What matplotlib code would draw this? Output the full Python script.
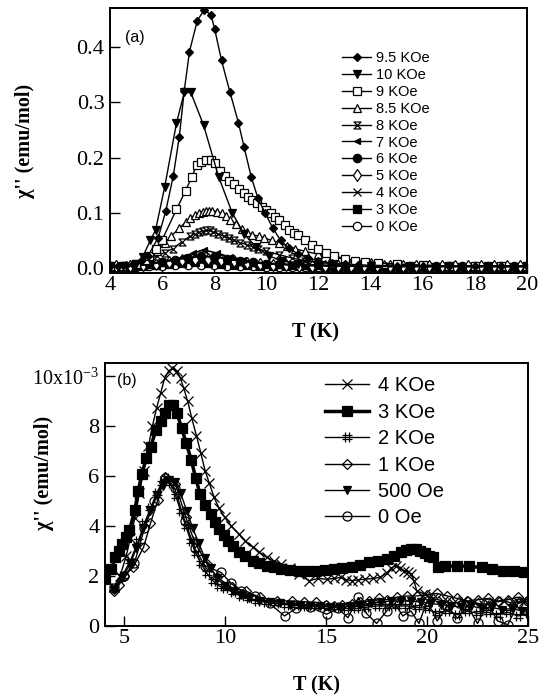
import matplotlib
matplotlib.use("Agg")
import matplotlib.pyplot as plt
from matplotlib.path import Path

plt.rcParams['font.family'] = ['Liberation Serif', 'DejaVu Serif']
plt.rcParams['mathtext.fontset'] = 'custom'
plt.rcParams['mathtext.rm'] = 'Liberation Serif'

# ---------------- panel (a) data: chi'' (emu/mol) vs T (K) ----------------
t_95 = [4.0, 4.3, 4.6, 4.9, 5.2, 5.46, 5.85, 6.14, 6.43, 6.66,
        6.85, 7.05, 7.35, 7.62, 7.88, 8.02, 8.28, 8.6, 8.93, 9.14,
        9.42, 9.68, 9.95, 10.25, 10.55, 10.85, 11.2, 11.6, 12.0, 12.5,
        13.0, 13.5, 14.0, 15.0, 16.0, 17.0, 18.0, 19.0, 20.0]
chi_95 = [0.004, 0.004, 0.005, 0.007, 0.012, 0.022, 0.055, 0.103, 0.167, 0.238,
          0.321, 0.392, 0.448, 0.468, 0.458, 0.432, 0.376, 0.319, 0.263, 0.220,
          0.165, 0.126, 0.100, 0.072, 0.050, 0.036, 0.026, 0.018, 0.013, 0.009,
          0.007, 0.006, 0.005, 0.004, 0.004, 0.003, 0.003, 0.003, 0.003]

t_10 = [4.0, 4.5, 5.0, 5.25, 5.55, 5.75, 6.1, 6.55, 6.85, 7.1,
        7.59, 8.17, 8.69, 9.14, 9.6, 10.1, 10.6, 11.2, 12.0, 13.0,
        14.0, 15.5, 17.0, 18.5, 20.0]
chi_10 = [0.003, 0.004, 0.008, 0.02, 0.05, 0.069, 0.147, 0.262, 0.318, 0.318,
          0.259, 0.165, 0.100, 0.062, 0.038, 0.022, 0.013, 0.008, 0.005, 0.004,
          0.003, 0.003, 0.003, 0.003, 0.003]

t_9 = [4.0, 4.5, 5.0, 5.5, 5.75, 6.0, 6.55, 6.9, 7.14, 7.33,
       7.5, 7.68, 7.86, 8.04, 8.22, 8.4, 8.58, 8.75, 8.95, 9.14,
       9.3, 9.46, 9.65, 9.85, 10.0, 10.17, 10.35, 10.5, 10.7, 10.88,
       11.05, 11.2, 11.47, 11.75, 12.0, 12.3, 12.6, 13.0, 13.4, 13.8,
       14.3, 15.0, 16.0, 17.0, 18.0, 19.0, 20.0]
chi_9 = [0.003, 0.004, 0.008, 0.022, 0.035, 0.051, 0.106, 0.140, 0.165, 0.187,
         0.192, 0.196, 0.196, 0.190, 0.176, 0.166, 0.158, 0.152, 0.143, 0.135,
         0.129, 0.123, 0.117, 0.111, 0.105, 0.099, 0.093, 0.087, 0.078, 0.069,
         0.064, 0.060, 0.051, 0.042, 0.035, 0.028, 0.022, 0.017, 0.013, 0.011,
         0.009, 0.007, 0.005, 0.004, 0.004, 0.003, 0.003]

t_85 = [4.0, 4.5, 5.0, 5.4, 5.8, 6.1, 6.35, 6.66, 6.9, 7.08,
        7.25, 7.4, 7.55, 7.68, 7.8, 7.93, 8.1, 8.3, 8.45, 8.62,
        8.85, 9.07, 9.25, 9.46, 9.7, 9.9, 10.2, 10.5, 10.8, 11.1,
        11.5, 12.0, 12.5, 13.0, 13.5, 14.0, 14.5, 15.0, 16.0, 17.0,
        18.0, 19.0, 20.0]
chi_85 = [0.003, 0.004, 0.007, 0.015, 0.030, 0.045, 0.058, 0.072, 0.083, 0.090,
          0.096, 0.0995, 0.102, 0.103, 0.104, 0.104, 0.102, 0.099, 0.094, 0.087,
          0.079, 0.070, 0.065, 0.060, 0.058, 0.055, 0.050, 0.046, 0.040, 0.035,
          0.030, 0.025, 0.020, 0.016, 0.013, 0.010, 0.008, 0.007, 0.005, 0.004,
          0.004, 0.003, 0.003]

t_8 = [4.0, 4.5, 5.0, 5.4, 5.8, 6.1, 6.4, 6.75, 7.08, 7.25,
       7.4, 7.55, 7.68, 7.82, 7.97, 8.15, 8.36, 8.55, 8.75, 9.0,
       9.27, 9.5, 9.68, 10.0, 10.5, 11.0, 11.5, 12.0, 12.5, 13.0,
       14.0, 15.0, 16.0, 17.0, 18.0, 19.0, 20.0]
chi_8 = [0.003, 0.004, 0.006, 0.012, 0.022, 0.028, 0.035, 0.047, 0.058, 0.062,
         0.066, 0.067, 0.068, 0.068, 0.066, 0.062, 0.058, 0.054, 0.050, 0.046,
         0.042, 0.038, 0.035, 0.030, 0.024, 0.018, 0.013, 0.010, 0.008, 0.006,
         0.005, 0.004, 0.003, 0.003, 0.003, 0.003, 0.003]

t_7 = [4.0, 4.5, 5.0, 5.5, 6.0, 6.4, 6.8, 7.2, 7.59, 8.1,
       8.6, 9.1, 9.5, 10.0, 10.5, 11.0, 12.0, 13.0, 14.0, 15.0,
       16.0, 17.0, 18.0, 19.0, 20.0]
chi_7 = [0.003, 0.003, 0.005, 0.008, 0.012, 0.015, 0.020, 0.027, 0.033, 0.027,
         0.020, 0.015, 0.011, 0.009, 0.007, 0.006, 0.004, 0.004, 0.003, 0.003,
         0.003, 0.003, 0.003, 0.003, 0.003]

t_grid_a = [4.0, 4.5, 5.0, 5.5, 6.0, 6.5, 7.0, 7.5, 8.0, 8.5,
            9.0, 9.5, 10.0, 10.5, 11.0, 11.5, 12.0, 12.5, 13.0, 13.5,
            14.0, 14.5, 15.0, 15.5, 16.0, 16.5, 17.0, 17.5, 18.0, 18.5,
            19.0, 19.5, 20.0]
t_grid_b = [4.25, 4.75, 5.25, 5.75, 6.25, 6.75, 7.25, 7.75, 8.25, 8.75,
            9.25, 9.75, 10.25, 10.75, 11.25, 11.75, 12.25, 12.75, 13.25, 13.75,
            14.25, 14.75, 15.25, 15.75, 16.25, 16.75, 17.25, 17.75, 18.25, 18.75,
            19.25, 19.75]
chi_6 = [0.003, 0.003, 0.004, 0.007, 0.011, 0.015, 0.019, 0.021, 0.020, 0.017,
         0.013, 0.010, 0.008, 0.007, 0.006, 0.005, 0.005, 0.004, 0.004, 0.004,
         0.004, 0.003, 0.003, 0.003, 0.003, 0.003, 0.003, 0.003, 0.003, 0.003,
         0.003, 0.003, 0.003]
chi_5 = [0.003, 0.003, 0.005, 0.008, 0.011, 0.014, 0.016, 0.016, 0.014, 0.012,
         0.009, 0.007, 0.006, 0.005, 0.004, 0.004, 0.004, 0.003, 0.003, 0.003,
         0.003, 0.003, 0.003, 0.003, 0.003, 0.003, 0.003, 0.003, 0.003, 0.003,
         0.003, 0.003]
chi_4 = [0.002, 0.002, 0.003, 0.005, 0.007, 0.009, 0.011, 0.012, 0.011, 0.010,
         0.008, 0.006, 0.005, 0.004, 0.004, 0.003, 0.003, 0.003, 0.003, 0.003,
         0.003, 0.002, 0.002, 0.002, 0.002, 0.002, 0.002, 0.002, 0.002, 0.002,
         0.002, 0.002, 0.002]
chi_3 = [0.002, 0.002, 0.004, 0.006, 0.008, 0.009, 0.010, 0.009, 0.008, 0.006,
         0.005, 0.004, 0.003, 0.003, 0.003, 0.002, 0.002, 0.002, 0.002, 0.002,
         0.002, 0.002, 0.002, 0.002, 0.002, 0.002, 0.002, 0.002, 0.002, 0.002,
         0.002, 0.002]
chi_0 = [0.001, 0.001, 0.002, 0.003, 0.004, 0.005, 0.006, 0.006, 0.005, 0.004,
         0.003, 0.003, 0.002, 0.002, 0.002, 0.001, 0.001, 0.001, 0.001, 0.001,
         0.001, 0.001, 0.001, 0.001, 0.001, 0.001, 0.001, 0.001, 0.001, 0.001,
         0.001, 0.001, 0.001]

# ---------------- panel (b) data: chi'' in units of 1e-3 emu/mol ----------------
tb_4k = [4.04, 4.48, 4.8, 5.1, 5.3, 5.52, 5.75, 5.96, 6.2, 6.4,
         6.6, 6.8, 7.0, 7.2, 7.39, 7.6, 7.79, 7.95, 8.14, 8.35,
         8.58, 8.8, 9.01, 9.22, 9.45, 9.7, 9.97, 10.3, 10.67, 11.0,
         11.37, 11.7, 12.07, 12.4, 12.77, 13.2, 13.64, 14.16, 14.6, 15.03,
         15.4, 15.73, 16.0, 16.26, 16.6, 16.95, 17.3, 17.65, 18.0, 18.2,
         18.44, 18.65, 18.87, 19.05, 19.22, 19.35, 19.49, 19.9, 20.3, 20.8,
         21.3, 21.8, 22.3, 22.8, 23.3, 23.8, 24.3, 24.8]
chib_4k = [1.94, 1.54, 2.0, 2.8, 3.5, 4.3, 5.3, 6.2, 7.2, 8.0,
           8.7, 9.3, 9.9, 10.2, 10.3, 10.2, 9.9, 9.5, 9.0, 8.3,
           7.6, 6.9, 6.2, 5.7, 5.15, 4.7, 4.35, 4.0, 3.68, 3.4,
           3.15, 2.95, 2.74, 2.6, 2.48, 2.3, 2.07, 1.81, 1.9, 1.87,
           1.9, 1.94, 1.85, 1.81, 1.85, 1.87, 1.9, 1.94, 2.1, 2.3,
           2.41, 2.3, 2.2, 2.15, 2.07, 1.8, 1.4, 1.27, 1.1, 1.0,
           0.9, 1.0, 0.95, 0.85, 0.95, 1.0, 0.9, 1.0]

tb_3k = [4.07, 4.36, 4.56, 4.75, 4.91, 5.1, 5.26, 5.52, 5.7, 5.87,
         6.1, 6.31, 6.57, 6.8, 7.0, 7.2, 7.42, 7.62, 7.85, 8.08,
         8.32, 8.55, 8.75, 9.0, 9.28, 9.5, 9.71, 9.95, 10.15, 10.4,
         10.67, 11.0, 11.37, 11.7, 12.07, 12.4, 12.77, 13.2, 13.64, 14.1,
         14.51, 14.95, 15.38, 15.8, 16.26, 16.7, 17.13, 17.55, 18.0, 18.35,
         18.7, 18.95, 19.22, 19.45, 19.66, 19.9, 20.1, 20.3, 20.53, 20.9,
         21.5, 22.1, 22.7, 23.2, 23.77, 24.3, 24.8]
chib_3k = [1.87, 2.28, 2.74, 3.0, 3.28, 3.55, 3.82, 4.62, 5.4, 6.09,
           6.7, 7.16, 7.83, 8.2, 8.5, 8.85, 8.85, 8.5, 7.9, 7.3,
           6.63, 5.9, 5.29, 4.85, 4.48, 4.15, 3.88, 3.62, 3.41, 3.2,
           2.95, 2.78, 2.61, 2.5, 2.41, 2.35, 2.28, 2.25, 2.21, 2.2,
           2.21, 2.25, 2.28, 2.3, 2.34, 2.45, 2.54, 2.6, 2.68, 2.8,
           2.95, 3.02, 3.08, 3.08, 3.01, 2.9, 2.81, 2.75, 2.34, 2.38,
           2.41, 2.38, 2.34, 2.28, 2.21, 2.18, 2.14]

tb_2k = [4.5, 4.9, 5.3, 5.7, 6.0, 6.3, 6.6, 6.85, 7.05, 7.3,
         7.55, 7.8, 8.05, 8.3, 8.55, 8.8, 9.1, 9.4, 9.7, 10.0,
         10.4, 10.8, 11.2, 11.6, 12.0, 12.5, 13.0, 13.5, 14.0, 14.5,
         15.0, 15.5, 16.0, 16.5, 17.0, 17.5, 18.0, 18.5, 19.0, 19.5,
         20.0, 20.5, 21.0, 21.5, 22.0, 22.5, 23.0, 23.5, 24.0, 24.5, 25.0]
chib_2k = [1.5, 2.0, 2.6, 3.4, 4.1, 4.7, 5.3, 5.7, 5.9, 5.7,
           5.2, 4.6, 4.0, 3.4, 2.9, 2.5, 2.1, 1.8, 1.6, 1.5,
           1.35, 1.2, 1.1, 1.0, 0.95, 0.9, 0.85, 0.85, 0.8, 0.8,
           0.8, 0.75, 0.7, 0.7, 0.75, 0.8, 0.8, 0.8, 0.8, 0.75,
           0.7, 0.5, 0.6, 0.45, 0.6, 0.5, 0.55, 0.45, 0.55, 0.4, 0.5]

tb_1k = [4.48, 4.75, 5.0, 5.44, 5.96, 6.3, 6.66, 7.0, 7.53, 8.05,
         8.49, 9.1, 9.62, 10.32, 11.02, 11.72, 12.59, 13.29, 13.9, 14.51,
         15.0, 15.38, 15.8, 16.26, 16.7, 17.13, 17.6, 18.0, 18.5, 19.0,
         19.5, 20.0, 20.5, 21.0, 21.5, 22.0, 22.5, 23.0, 23.5, 24.0,
         24.5, 25.0]
chib_1k = [1.4, 1.65, 2.0, 2.34, 3.15, 4.1, 5.02, 5.96, 5.69, 4.35,
           3.35, 2.48, 1.94, 1.54, 1.4, 1.14, 1.0, 1.0, 0.97, 0.94,
           0.85, 0.8, 0.85, 0.87, 0.95, 1.0, 1.1, 1.05, 1.15, 1.2,
           1.2, 1.25, 1.3, 1.2, 1.1, 1.0, 1.05, 1.1, 1.0, 1.05,
           1.15, 1.05]

tb_500 = [4.5, 4.9, 5.3, 5.6, 5.95, 6.3, 6.6, 6.9, 7.2, 7.53,
          7.8, 8.1, 8.4, 8.7, 9.0, 9.3, 9.6, 10.0, 10.4, 10.8,
          11.2, 11.7, 12.2, 12.7, 13.2, 13.7, 14.2, 14.7, 15.2, 15.7,
          16.2, 16.7, 17.2, 17.7, 18.2, 18.7, 19.2, 19.7, 20.2, 20.7,
          21.2, 21.7, 22.2, 22.7, 23.2, 23.7, 24.2, 24.7]
chib_500 = [1.45, 1.9, 2.5, 3.1, 3.9, 4.6, 5.2, 5.6, 5.85, 5.76,
            5.3, 4.6, 3.9, 3.3, 2.7, 2.3, 1.9, 1.6, 1.4, 1.25,
            1.1, 1.0, 0.95, 0.9, 0.85, 0.8, 0.8, 0.8, 0.75, 0.75,
            0.8, 0.85, 0.9, 0.95, 1.0, 1.0, 1.0, 0.95, 0.9, 0.85,
            0.8, 0.75, 0.8, 0.7, 0.75, 0.65, 0.7, 0.6]

tb_0 = [4.5, 5.0, 5.5, 6.0, 6.5, 7.0, 7.5, 8.0, 8.5, 9.0,
        9.8, 10.3, 10.8, 11.5, 12.2, 12.94, 13.5, 14.2, 15.03, 15.6,
        16.08, 16.6, 17.0, 17.5, 18.0, 18.4, 18.8, 19.2, 19.6, 20.0,
        20.5, 21.0, 21.5, 22.0, 22.5, 23.0, 23.5, 24.0, 24.5, 25.0]
chib_0 = [1.5, 2.0, 2.5, 3.9, 5.0, 5.9, 5.5, 4.2, 3.1, 2.4,
          2.14, 1.7, 1.4, 1.2, 0.9, 0.4, 0.7, 0.75, 0.47, 0.7,
          0.33, 1.14, 0.5, 0.1, 0.6, 0.9, 0.4, 0.6, 0.1, 1.0,
          0.2, 0.8, 0.3, 0.8, 0.1, 0.9, 0.2, 0.05, 0.9, 1.0]

# custom markers
hourglass = Path([(-1, 1), (1, 1), (-1, -1), (1, -1), (-1, 1)],
                 [Path.MOVETO, Path.LINETO, Path.LINETO, Path.LINETO, Path.CLOSEPOLY])
hashmark = Path([(-0.35, -1), (-0.35, 1), (0.35, -1), (0.35, 1),
                 (-1, -0.35), (1, -0.35), (-1, 0.35), (1, 0.35)],
                [Path.MOVETO, Path.LINETO, Path.MOVETO, Path.LINETO,
                 Path.MOVETO, Path.LINETO, Path.MOVETO, Path.LINETO])

# label, T, chi, marker, filled, markersize, linewidth
top_series = [
    ('9.5 KOe', t_95, chi_95, 'D', True, 4.5, 1.0),
    ('10 KOe', t_10, chi_10, 'v', True, 6, 1.0),
    ('9 KOe', t_9, chi_9, 's', False, 5.5, 1.0),
    ('8.5 KOe', t_85, chi_85, '^', False, 5.5, 1.0),
    ('8 KOe', t_8, chi_8, hourglass, False, 5, 1.0),
    ('7 KOe', t_7, chi_7, '<', True, 4.5, 1.2),
    ('6 KOe', t_grid_a, chi_6, 'o', True, 6, 1.5),
    ('5 KOe', t_grid_b, chi_5, 'd', False, 6, 1.5),
    ('4 KOe', t_grid_a, chi_4, 'x', False, 6, 1.5),
    ('3 KOe', t_grid_b, chi_3, 's', True, 6, 1.5),
    ('0 KOe', t_grid_a, chi_0, 'o', False, 6, 1.5),
]

bottom_series = [
    ('4 KOe', tb_4k, chib_4k, 'x', False, 7, 1.0),
    ('3 KOe', tb_3k, chib_3k, 's', True, 6.5, 2.5),
    ('2 KOe', tb_2k, chib_2k, hashmark, False, 7, 1.0),
    ('1 KOe', tb_1k, chib_1k, 'D', False, 5.5, 1.0),
    ('500 Oe', tb_500, chib_500, 'v', True, 5.5, 1.0),
    ('0 Oe', tb_0, chib_0, 'o', False, 6.5, 1.0),
]

fig = plt.figure(figsize=(5.51, 6.98), dpi=100)
ax1 = fig.add_axes([0.1996, 0.6089, 0.7568, 0.3797])
ax2 = fig.add_axes([0.1906, 0.1032, 0.7677, 0.3768])

for label, t, chi, mk, filled, ms, lw in reversed(top_series):
    ax1.plot(t, chi, color='black', lw=lw, marker=mk, ms=ms,
             mfc='black' if filled else 'white', mec='black', mew=0.9, label=label)

for label, t, chi, mk, filled, ms, lw in reversed(bottom_series):
    ax2.plot(t, chi, color='black', lw=lw, marker=mk, ms=ms,
             mfc='black' if filled else 'none', mec='black', mew=0.9, label=label)

legend_font = {'family': 'Liberation Sans'}

h1, l1 = ax1.get_legend_handles_labels()
leg1 = ax1.legend(h1[::-1], l1[::-1], loc='upper left', bbox_to_anchor=(0.6207, 0.9270),
                  bbox_transform=fig.transFigure, frameon=False, borderpad=0, borderaxespad=0,
                  handlelength=2.0, handletextpad=0.3, labelspacing=0.2,
                  prop=dict(legend_font, size=10.5))
for ln in leg1.get_lines():
    ln.set_linewidth(1.0)

h2, l2 = ax2.get_legend_handles_labels()
ax2.legend(h2[::-1], l2[::-1], loc='upper left', bbox_to_anchor=(0.5898, 0.4610),
           bbox_transform=fig.transFigure, frameon=False, borderpad=0, borderaxespad=0,
           handlelength=2.2, handletextpad=0.45, labelspacing=0.37,
           prop=dict(legend_font, size=14.5))

# axes (a)
ax1.set_xlim(4, 20)
ax1.set_ylim(-0.009, 0.471)
ax1.set_xticks([4, 6, 8, 10, 12, 14, 16, 18, 20])
ax1.set_yticks([0.0, 0.1, 0.2, 0.3, 0.4])
ax1.set_yticklabels(['0.0', '0.1', '0.2', '0.3', '0.4'])
ax1.tick_params(direction='in', length=7, width=1.0, labelsize=16, pad=2)
ax1.tick_params(axis='y', pad=4)
ax1.text(0.036, 0.887, '(a)', transform=ax1.transAxes, fontsize=11.5,
         family='Liberation Sans', va='center', ha='left')
ax1.set_xlabel('T (K)', fontsize=14.5, fontweight='bold')
ax1.set_ylabel("\u03c7'' (emu/mol)", fontsize=14.5, fontweight='bold')
ax1.xaxis.set_label_coords(0.494, -0.185)
ax1.yaxis.set_label_coords(-0.18, 0.50)

# axes (b)
ax2.set_xlim(4.05, 25)
ax2.set_ylim(0, 10.52)
ax2.set_xticks([5, 10, 15, 20, 25])
ax2.set_yticks([0, 2, 4, 6, 8, 10])
ax2.set_yticklabels(['0', '2', '4', '6', '8', '10x10$^{-3}$'])
ax2.tick_params(direction='in', length=7, width=1.0, labelsize=16, pad=2)
ax2.tick_params(axis='y', pad=4)
ax2.get_yticklabels()[-1].set_fontsize(14.5)
ax2.text(0.028, 0.935, '(b)', transform=ax2.transAxes, fontsize=11.5,
         family='Liberation Sans', va='center', ha='left')
ax2.set_xlabel('T (K)', fontsize=14.5, fontweight='bold')
ax2.set_ylabel("\u03c7'' (emu/mol)", fontsize=14.5, fontweight='bold')
ax2.xaxis.set_label_coords(0.499, -0.19)
ax2.yaxis.set_label_coords(-0.12, 0.58)

for ax in (ax1, ax2):
    for sp in ax.spines.values():
        sp.set_linewidth(1.4)

fig.savefig('out.png', dpi=100)
